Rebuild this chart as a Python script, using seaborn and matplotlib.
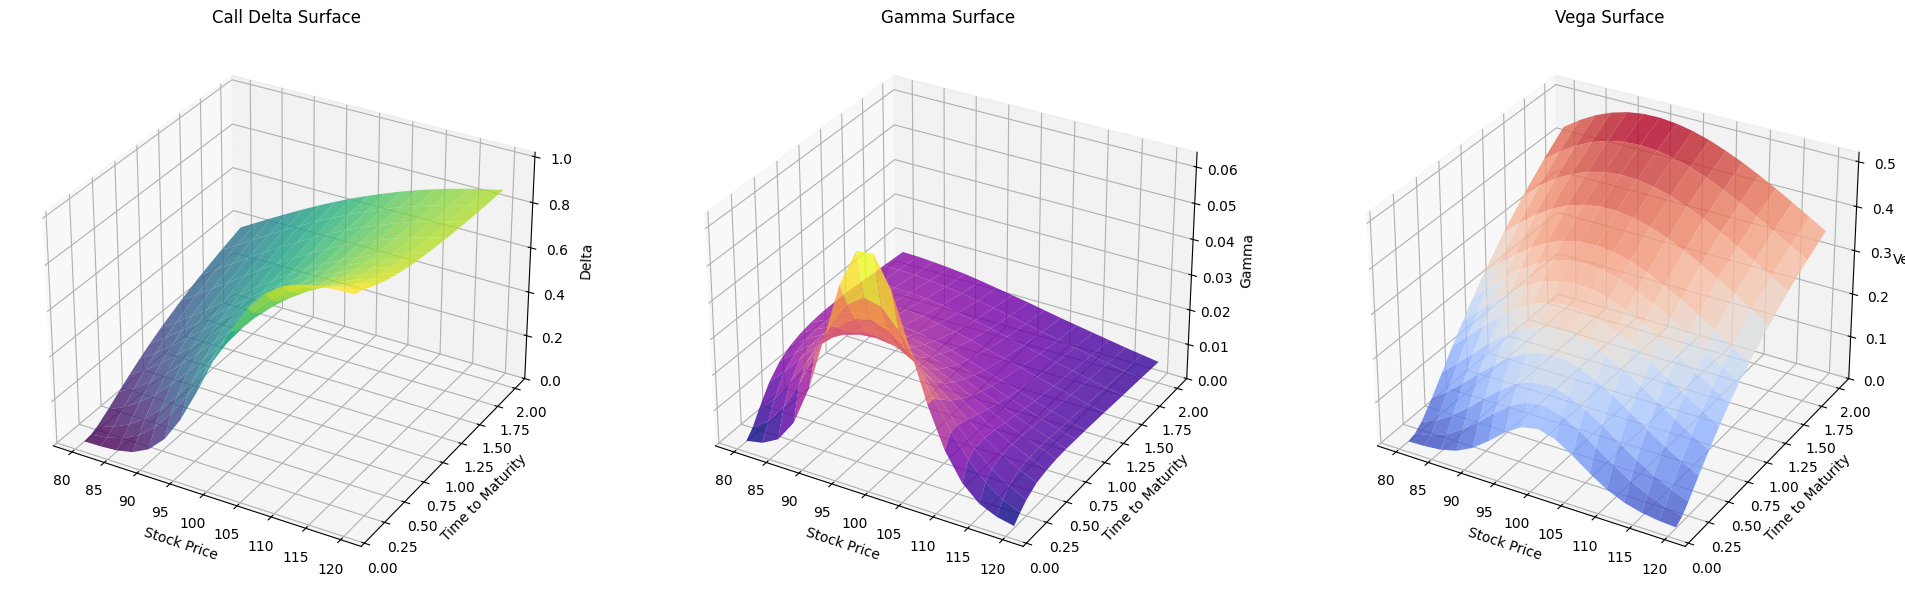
import numpy as np
import pandas as pd
import matplotlib
matplotlib.use("Agg")
import matplotlib.pyplot as plt
import seaborn as sns

stock_prices = [80, 82.5, 85, 87.5, 90, 92.5, 95, 97.5, 100, 102.5, 105, 107.5, 110, 112.5, 115, 117.5, 120]
maturities = [0.1, 0.175, 0.25, 0.375, 0.5, 0.625, 0.75, 0.875, 1.0, 1.25, 1.5, 1.75, 2.0]

delta_t0100 = [.0003, .0017, .0070, .0228, .0599, .1307, .2420, .3863, .5442, .6918, .8111, .8951, .9471, .9758, .9899, .9961, .9986]
delta_t0175 = [.0059, .0157, .0363, .0737, .1329, .2160, .3203, .4380, .5580, .6707, .7673, .8440, .9006, .9399, .9654, .9810, .9900]
delta_t0250 = [.0199, .0401, .0735, .1230, .1897, .2726, .3677, .4689, .5695, .6635, .7463, .8154, .8703, .9120, .9421, .9631, .9771]
delta_t0375 = [.0540, .0874, .1331, .1905, .2591, .3362, .4188, .5032, .5847, .6613, .7301, .7896, .8394, .8802, .9125, .9371, .9557]
delta_t0500 = [.0918, .1329, .1835, .2432, .3093, .3806, .4542, .5275, .5975, .6635, .7234, .7761, .8215, .8599, .8918, .9174, .9379]
delta_t0625 = [.1284, .1736, .2263, .2850, .3483, .4141, .4809, .5466, .6091, .6675, .7207, .7685, .8103, .8466, .8772, .9027, .9236]
delta_t0750 = [.1623, .2096, .2627, .3199, .3802, .4416, .5028, .5624, .6191, .6722, .7207, .7645, .8032, .8372, .8665, .8914, .9125]
delta_t0875 = [.1935, .2417, .2943, .3497, .4067, .4641, .5211, .5761, .6282, .6769, .7217, .7624, .7987, .8307, .8588, .8830, .9035]
delta_t1000 = [.2219, .2703, .3217, .3752, .4298, .4840, .5374, .5886, .6368, .6822, .7237, .7618, .7959, .8261, .8529, .8764, .8965]
delta_t1250 = [.2723, .3195, .3688, .4184, .4681, .5168, .5643, .6095, .6521, .6922, .7291, .7627, .7930, .8207, .8454, .8671, .8863]
delta_t1500 = [.3149, .3605, .4071, .4538, .4992, .5438, .5867, .6274, .6660, .7016, .7350, .7655, .7933, .8183, .8411, .8615, .8796]
delta_t1750 = [.3520, .3959, .4400, .4833, .5259, .5667, .6060, .6432, .6783, .7109, .7415, .7691, .7947, .8181, .8394, .8584, .8753]
delta_t2000 = [.3844, .4266, .4681, .5092, .5486, .5867, .6232, .6576, .6897, .7197, .7479, .7737, .7973, .8189, .8387, .8566, .8729]

gamma_t0100 = [.0002, .0011, .0036, .0098, .0209, .0363, .0520, .0621, .0627, .0543, .0407, .0267, .0155, .0080, .0037, .0016, .0006]
gamma_t0175 = [.0025, .0057, .0112, .0191, .0285, .0379, .0450, .0483, .0472, .0422, .0348, .0266, .0190, .0127, .0080, .0047, .0027]
gamma_t0250 = [.0060, .0105, .0164, .0233, .0301, .0359, .0397, .0408, .0393, .0356, .0305, .0248, .0192, .0142, .0101, .0069, .0045]
gamma_t0375 = [.0112, .0157, .0207, .0254, .0294, .0322, .0336, .0334, .0318, .0292, .0257, .0219, .0181, .0145, .0113, .0086, .0064]
gamma_t0500 = [.0146, .0184, .0221, .0253, .0277, .0291, .0295, .0289, .0274, .0252, .0225, .0197, .0168, .0140, .0114, .0092, .0072]
gamma_t0625 = [.0166, .0197, .0224, .0245, .0260, .0266, .0265, .0257, .0243, .0224, .0203, .0179, .0156, .0133, .0112, .0093, .0076]
gamma_t0750 = [.0177, .0201, .0222, .0236, .0244, .0246, .0242, .0233, .0220, .0204, .0185, .0165, .0146, .0126, .0108, .0092, .0077]
gamma_t0875 = [.0183, .0202, .0217, .0226, .0230, .0230, .0224, .0215, .0202, .0187, .0171, .0154, .0137, .0120, .0104, .0089, .0076]
gamma_t1000 = [.0186, .0201, .0211, .0217, .0218, .0215, .0209, .0200, .0188, .0174, .0159, .0144, .0129, .0114, .0100, .0087, .0075]
gamma_t1250 = [.0186, .0194, .0198, .0200, .0198, .0193, .0185, .0176, .0165, .0153, .0141, .0129, .0116, .0104, .0093, .0082, .0072]
gamma_t1500 = [.0181, .0185, .0186, .0185, .0181, .0175, .0167, .0158, .0149, .0138, .0127, .0117, .0106, .0096, .0086, .0077, .0068]
gamma_t1750 = [.0175, .0177, .0175, .0172, .0167, .0161, .0153, .0145, .0135, .0126, .0116, .0107, .0098, .0089, .0080, .0072, .0065]
gamma_t2000 = [.0169, .0168, .0165, .0161, .0156, .0149, .0141, .0133, .0125, .0116, .0107, .0099, .0091, .0083, .0075, .0068, .0061]

vega_t0100 = [.0003, .0014, .0052, .0149, .0338, .0621, .0938, .1180, .1254, .1141, .0897, .0618, .0375, .0202, .0098, .0043, .0017]
vega_t0175 = [.0056, .0136, .0283, .0511, .0808, .1134, .1421, .1607, .1651, .1552, .1342, .1076, .0804, .0560, .0368, .0229, .0134]
vega_t0250 = [.0193, .0356, .0592, .0891, .1220, .1536, .1790, .1939, .1965, .1871, .1681, .1434, .1162, .0899, .0666, .0474, .0325]
vega_t0375 = [.0537, .0803, .1119, .1457, .1785, .2066, .2273, .2382, .2388, .2297, .2126, .1900, .1643, .1376, .1120, .0889, .0689]
vega_t0500 = [.0932, .1252, .1597, .1937, .2242, .2491, .2662, .2744, .2737, .2645, .2484, .2273, .2028, .1772, .1511, .1265, .1038]
vega_t0625 = [.1327, .1673, .2023, .2349, .2631, .2850, .2993, .3054, .3035, .2942, .2791, .2588, .2358, .2104, .1848, .1599, .1361]
vega_t0750 = [.1702, .2056, .2401, .2709, .2967, .3162, .3282, .3328, .3300, .3207, .3057, .2864, .2641, .2398, .2146, .1896, .1654]
vega_t0875 = [.2053, .2409, .2741, .3032, .3267, .3437, .3540, .3572, .3537, .3442, .3295, .3110, .2891, .2655, .2410, .2160, .1918]
vega_t1000 = [.2380, .2730, .3047, .3319, .3534, .3687, .3773, .3794, .3752, .3653, .3511, .3328, .3117, .2891, .2646, .2401, .2160]
vega_t1250 = [.2970, .3296, .3585, .3821, .4002, .4122, .4181, .4184, .4132, .4030, .3888, .3715, .3514, .3292, .3059, .2822, .2584]
vega_t1500 = [.3479, .3782, .4040, .4247, .4397, .4492, .4532, .4518, .4457, .4355, .4213, .4043, .3846, .3635, .3411, .3180, .2945]
vega_t1750 = [.3928, .4205, .4435, .4614, .4740, .4813, .4836, .4811, .4741, .4635, .4492, .4327, .4137, .3931, .3710, .3488, .3261]
vega_t2000 = [.4323, .4576, .4781, .4935, .5040, .5095, .5103, .5066, .4992, .4884, .4740, .4578, .4390, .4191, .3978, .3757, .3535]

delta_rows = [delta_t0100, delta_t0175, delta_t0250, delta_t0375, delta_t0500, delta_t0625, delta_t0750,
              delta_t0875, delta_t1000, delta_t1250, delta_t1500, delta_t1750, delta_t2000]
gamma_rows = [gamma_t0100, gamma_t0175, gamma_t0250, gamma_t0375, gamma_t0500, gamma_t0625, gamma_t0750,
              gamma_t0875, gamma_t1000, gamma_t1250, gamma_t1500, gamma_t1750, gamma_t2000]
vega_rows = [vega_t0100, vega_t0175, vega_t0250, vega_t0375, vega_t0500, vega_t0625, vega_t0750,
             vega_t0875, vega_t1000, vega_t1250, vega_t1500, vega_t1750, vega_t2000]

titles = ["Call Delta Surface", "Gamma Surface", "Vega Surface"]
zlabels = ["Delta", "Gamma", "Vega"]
cmaps = ["viridis", "plasma", "coolwarm"]
centers = [286, 948, 1610]

fig = plt.figure(figsize=(19.05, 5.93), dpi=100)
X, Y = np.meshgrid(stock_prices, maturities)
side = 548
top = 33

for i, rows in enumerate([delta_rows, gamma_rows, vega_rows]):
    df = pd.DataFrame(rows, index=maturities, columns=stock_prices)
    ax = fig.add_axes([(centers[i] - side / 2) / 1905, (593 - top - side) / 593, side / 1905, side / 593],
                      projection="3d")
    ax.plot_surface(X, Y, df.values, cmap=sns.color_palette(cmaps[i], as_cmap=True), alpha=0.8)
    ax.set_title(titles[i], pad=7)
    ax.set_xlabel("Stock Price")
    ax.set_ylabel("Time to Maturity")
    ax.set_zlabel(zlabels[i])
    ax.set_zlim(0, None)

fig.savefig("out.png", dpi=100)
